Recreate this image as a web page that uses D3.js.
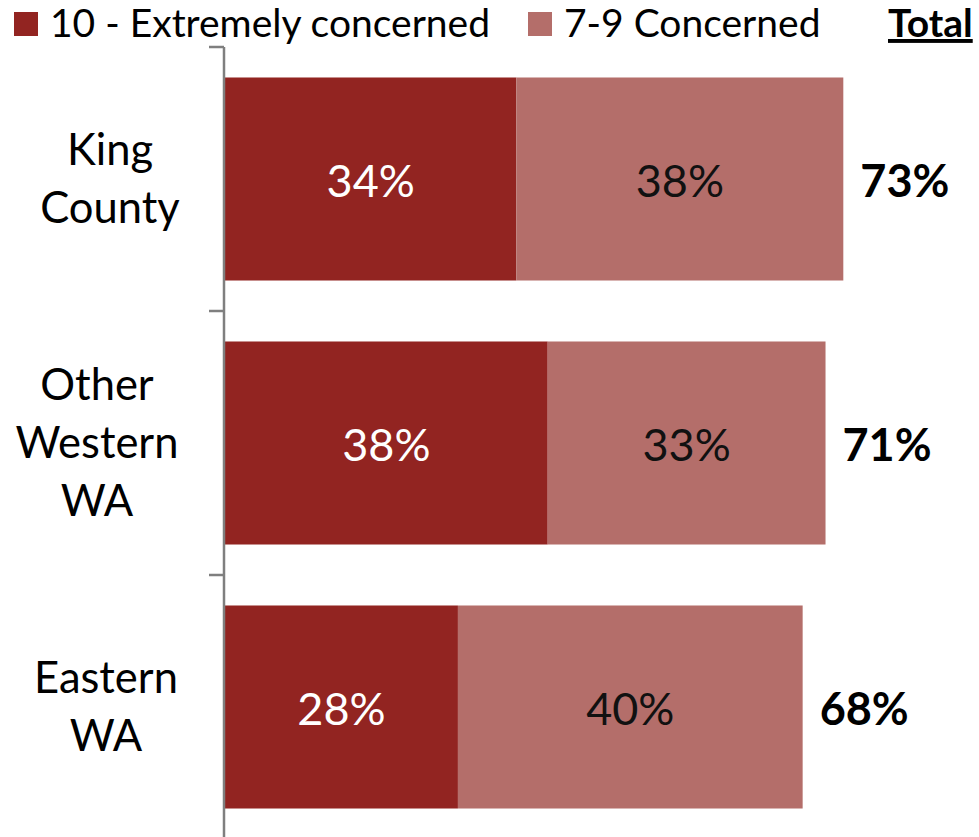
<!DOCTYPE html>
<html><head><meta charset="utf-8">
<script src="https://cdn.jsdelivr.net/npm/d3@7"></script>
<style>body{margin:0;background:#fff}svg{display:block}text{font-family:Lato,"Open Sans",sans-serif}</style>
</head><body><div id="chart"></div>
<script>
const categories = ["King County", "Other Western WA", "Eastern WA"];
const categoryLines = [["King","County"],["Other","Western","WA"],["Eastern","WA"]];
const seriesNames = ["10 - Extremely concerned", "7-9 Concerned"];
const extremely = [34.4, 38.1, 27.5];
const concerned = [38.6, 32.8, 40.7];
const extremelyLabels = ["34%", "38%", "28%"];
const concernedLabels = ["38%", "33%", "40%"];
const totalLabels = ["73%", "71%", "68%"];
const colors = ["#922421", "#b46e6a"];

const W = 979, H = 837;
const svg = d3.select("#chart").append("svg").attr("width", W).attr("height", H);

const x = d3.scaleLinear().domain([0, 100]).range([225, 1072]);
const y = d3.scaleBand().domain(categories).range([47, 839]).paddingInner(0.231).paddingOuter(0.1155);

const stackData = categories.map((c, i) => ({cat: c, a: extremely[i], b: concerned[i]}));
const stack = d3.stack().keys(["a", "b"])(stackData);

stack.forEach((layer, li) => {
  svg.append("g").selectAll("rect").data(layer).join("rect")
    .attr("x", d => x(d[0])).attr("width", d => x(d[1]) - x(d[0]))
    .attr("y", d => y(d.data.cat)).attr("height", y.bandwidth())
    .attr("fill", colors[li]);
});

// segment labels
const segLabels = [extremelyLabels, concernedLabels];
stack.forEach((layer, li) => {
  svg.append("g").selectAll("text").data(layer).join("text")
    .attr("x", d => (x(d[0]) + x(d[1])) / 2)
    .attr("y", d => y(d.data.cat) + y.bandwidth() / 2 + 2)
    .attr("dy", "0.35em").attr("text-anchor", "middle")
    .attr("font-size", 45).attr("fill", li === 0 ? "#fff" : "#111")
    .text((d, i) => segLabels[li][i]);
});

// totals
svg.append("g").selectAll("text").data(stack[1]).join("text")
  .attr("x", d => x(d[1]) + 17)
  .attr("y", d => y(d.data.cat) + y.bandwidth() / 2 + 2)
  .attr("dy", "0.35em").attr("font-size", 45).attr("font-weight", "bold").attr("fill", "#000")
  .text((d, i) => totalLabels[i]);

// axis
const yFull = d3.scalePoint().domain([0,1,2,3]).range([47, 839]);
const axis = svg.append("g");
axis.append("line").attr("x1", 224).attr("x2", 224).attr("y1", 47).attr("y2", H)
  .attr("stroke", "#7f7f7f").attr("stroke-width", 2.5);
axis.selectAll(".tick").data([0,1,2]).join("line")
  .attr("x1", 209).attr("x2", 224).attr("y1", d => yFull(d)).attr("y2", d => yFull(d))
  .attr("stroke", "#7f7f7f").attr("stroke-width", 2.5);

// category labels
const labelCenters = [110, 97, 106];
categories.forEach((c, i) => {
  const lines = categoryLines[i];
  const cy = y(c) + y.bandwidth() / 2;
  const lh = 58;
  const t = svg.append("text").attr("text-anchor", "middle").attr("font-size", 43.5).attr("fill", "#000");
  lines.forEach((ln, j) => {
    t.append("tspan").attr("x", labelCenters[i])
      .attr("y", cy + (j - (lines.length - 1) / 2) * lh).attr("dy", "0.35em").text(ln);
  });
});

// legend
const legX = [14, 528];
seriesNames.forEach((n, i) => {
  svg.append("rect").attr("x", legX[i]).attr("y", 12).attr("width", 24).attr("height", 24).attr("fill", colors[i]);
  svg.append("text").attr("x", legX[i] + 36).attr("y", 37).attr("font-size", 39).attr("fill", "#000").text(n);
});
svg.append("text").attr("x", 888).attr("y", 37).attr("font-size", 39).attr("font-weight", "bold")
  .attr("text-decoration", "underline").attr("fill", "#000").text("Total");
</script></body></html>
